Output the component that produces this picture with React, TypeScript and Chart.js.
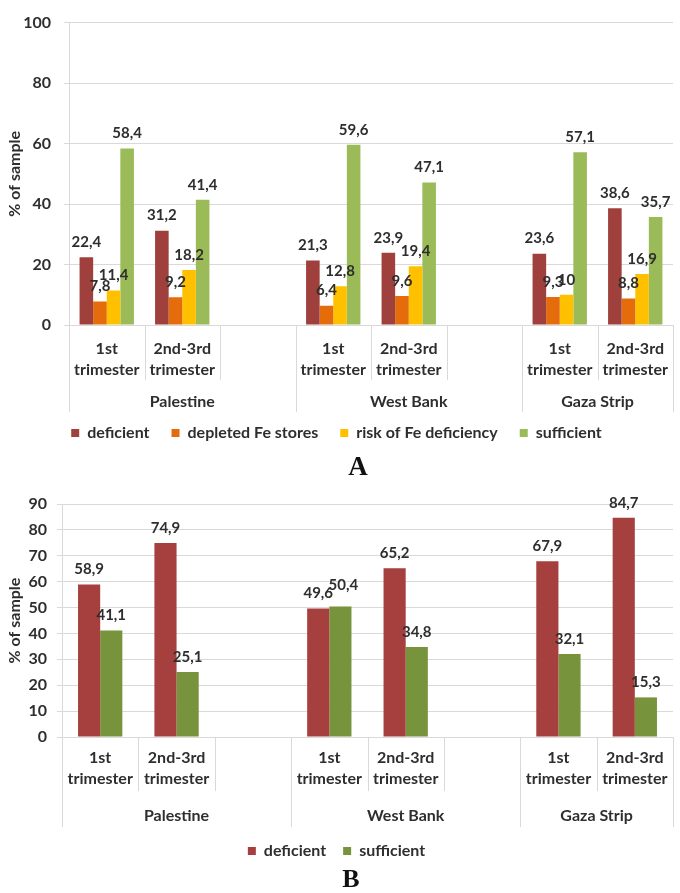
import React, { useEffect, useRef } from "react";
import { Chart, registerables } from "chart.js";

Chart.register(...registerables);

// ---------- data ----------
const categories: string[][] = [
  ["1st", "trimester"],
  ["2nd-3rd", "trimester"],
  ["", ""],
  ["1st", "trimester"],
  ["2nd-3rd", "trimester"],
  ["", ""],
  ["1st", "trimester"],
  ["2nd-3rd", "trimester"],
];
const regions = ["Palestine", "West Bank", "Gaza Strip"];
const regionSpans = [3, 3, 2];

const deficientA = [22.4, 31.2, null, 21.3, 23.9, null, 23.6, 38.6];
const depletedA = [7.8, 9.2, null, 6.4, 9.6, null, 9.3, 8.8];
const riskA = [11.4, 18.2, null, 12.8, 19.4, null, 10, 16.9];
const sufficientA = [58.4, 41.4, null, 59.6, 47.1, null, 57.1, 35.7];

const deficientB = [58.9, 74.9, null, 49.6, 65.2, null, 67.9, 84.7];
const sufficientB = [41.1, 25.1, null, 50.4, 34.8, null, 32.1, 15.3];

const yTicksA = { min: 0, max: 100, step: 20 };
const yTicksB = { min: 0, max: 90, step: 10 };

// ---------- styles ----------
const FONT = "Lato, 'Open Sans', sans-serif";
const TEXT = "#2e2e2e";
const GRID = "#d9d9d9";

const fmt = (v: number) => String(v).replace(".", ",");

const dataLabelPlugin = {
  id: "valueLabels",
  afterDatasetsDraw(chart: any, _a: any, o: any) {
    const ctx = chart.ctx;
    ctx.save();
    ctx.font = `bold 15px ${FONT}`;
    ctx.fillStyle = TEXT;
    ctx.textAlign = "center";
    ctx.textBaseline = "middle";
    const placed: { x: number; y: number; w: number; i: number }[] = [];
    chart.data.datasets.forEach((ds: any, di: number) => {
      const meta = chart.getDatasetMeta(di);
      meta.data.forEach((el: any, i: number) => {
        const v = ds.data[i];
        if (v === null || v === undefined) return;
        const t = fmt(v);
        const w = ctx.measureText(t).width;
        let lx = el.x;
        let ly = el.y - 15;
        if (o && o.avoid) {
          for (const p of placed) {
            if (p.i === i && Math.abs(p.x - lx) < (p.w + w) / 2 && Math.abs(p.y - ly) < 12) {
              lx += 3;
              ly = p.y - 8;
            }
          }
        }
        placed.push({ x: lx, y: ly, w, i });
        ctx.fillText(t, lx, ly);
      });
    });
    ctx.restore();
  },
};

const multiLevelPlugin = {
  id: "multiLevelX",
  afterDraw(chart: any, _args: any, o: any) {
    const ctx = chart.ctx;
    const x = chart.scales.x;
    const n = chart.data.labels.length;
    const w = (x.right - x.left) / n;
    const bottom = chart.chartArea.bottom;
    ctx.save();
    const groupBounds = new Set<number>();
    let acc = 0;
    groupBounds.add(0);
    regionSpans.forEach((s) => {
      acc += s;
      groupBounds.add(acc);
    });
    ctx.strokeStyle = GRID;
    ctx.lineWidth = 1;
    for (let k = 0; k <= n; k++) {
      const px = Math.round(x.left + k * w) + 0.5;
      const len = groupBounds.has(k) ? o.groupLen : o.innerLen;
      ctx.beginPath();
      ctx.moveTo(px, bottom);
      ctx.lineTo(px, bottom + len);
      ctx.stroke();
    }
    ctx.font = `bold 16px ${FONT}`;
    ctx.fillStyle = TEXT;
    ctx.textAlign = "center";
    ctx.textBaseline = "middle";
    categories.forEach((lines, i) => {
      const cx = x.getPixelForValue(i);
      ctx.fillText(lines[0], cx, bottom + o.line1);
      ctx.fillText(lines[1], cx, bottom + o.line2);
    });
    let start = 0;
    regions.forEach((r, gi) => {
      const end = start + regionSpans[gi];
      const cx = x.left + ((start + end) / 2) * w;
      ctx.fillText(r, cx, bottom + o.group);
      start = end;
    });
    ctx.restore();
  },
};

function makeConfig(
  datasets: any[],
  yt: { min: number; max: number; step: number },
  opts: {
    yWidth: number;
    xHeight: number;
    padTop: number;
    catPct: number;
    legendPad: number;
    tickPad: number;
    avoid: boolean;
    ml: any;
  }
): any {
  return {
    type: "bar",
    data: { labels: categories.map((c) => c.join(" ")), datasets },
    plugins: [dataLabelPlugin, multiLevelPlugin],
    options: {
      responsive: false,
      devicePixelRatio: 1,
      animation: false,
      events: [],
      layout: { padding: { top: opts.padTop, right: 7, left: 0, bottom: 0 } },
      datasets: { bar: { categoryPercentage: opts.catPct, barPercentage: 1 } },
      scales: {
        x: {
          grid: { display: false },
          border: { display: false },
          ticks: { display: false },
          afterFit: (s: any) => {
            s.height = opts.xHeight;
          },
        },
        y: {
          min: yt.min,
          max: yt.max,
          ticks: {
            stepSize: yt.step,
            color: TEXT,
            font: { family: FONT, size: 16, weight: "bold" },
            padding: opts.tickPad,
          },
          grid: { color: GRID, tickLength: 5, lineWidth: 1 },
          border: { display: true, color: GRID },
          title: {
            display: true,
            text: "% of sample",
            color: TEXT,
            font: { family: FONT, size: 16, weight: "bold" },
            padding: { top: 5, bottom: 0 },
          },
          afterFit: (s: any) => {
            s.width = opts.yWidth;
          },
        },
      },
      plugins: {
        tooltip: { enabled: false },
        legend: {
          position: "bottom",
          labels: {
            boxWidth: 8,
            boxHeight: 8,
            padding: opts.legendPad,
            color: TEXT,
            font: { family: FONT, size: 16, weight: "bold" },
          },
        },
        valueLabels: { avoid: opts.avoid },
        multiLevelX: opts.ml,
      },
    },
  };
}

function ChartCanvas({ config, width, height }: { config: () => any; width: number; height: number }) {
  const ref = useRef<HTMLCanvasElement | null>(null);
  useEffect(() => {
    if (!ref.current) return;
    const c = new Chart(ref.current, config());
    return () => c.destroy();
  }, []);
  return <canvas ref={ref} width={width} height={height} style={{ display: "block" }} />;
}

export default function App() {
  const cfgA = () =>
    makeConfig(
      [
        { label: "deficient", data: deficientA, backgroundColor: "#a0403c" },
        { label: "depleted Fe stores", data: depletedA, backgroundColor: "#e46c0a" },
        { label: "risk of Fe deficiency", data: riskA, backgroundColor: "#ffc000" },
        { label: "sufficient", data: sufficientA, backgroundColor: "#9bbb59" },
      ],
      yTicksA,
      {
        yWidth: 69,
        xHeight: 78,
        padTop: 13,
        catPct: 0.72,
        legendPad: 22,
        tickPad: 13,
        avoid: false,
        ml: { line1: 24, line2: 45, group: 77, innerLen: 55, groupLen: 87 },
      }
    );
  const cfgB = () =>
    makeConfig(
      [
        { label: "deficient", data: deficientB, backgroundColor: "#a5403e" },
        { label: "sufficient", data: sufficientB, backgroundColor: "#77933c" },
      ],
      yTicksB,
      {
        yWidth: 62,
        xHeight: 89,
        padTop: 24,
        catPct: 0.58,
        legendPad: 17,
        tickPad: 10,
        avoid: true,
        ml: { line1: 21, line2: 42, group: 79, innerLen: 54, groupLen: 90 },
      }
    );
  const letter: React.CSSProperties = {
    position: "absolute",
    fontFamily: "'Liberation Serif', 'DejaVu Serif', serif",
    fontWeight: "bold",
    color: "#111",
    transform: "translate(-50%, -50%)",
    lineHeight: 1,
  };
  return (
    <div style={{ position: "absolute", left: 0, top: 0, width: 680, height: 893, background: "#fff" }}>
      <div style={{ position: "absolute", left: 0, top: 0 }}>
        <ChartCanvas config={cfgA} width={680} height={451} />
      </div>
      <div style={{ ...letter, left: 358, top: 466, fontSize: 27 }}>A</div>
      <div style={{ position: "absolute", left: 0, top: 480 }}>
        <ChartCanvas config={cfgB} width={680} height={389} />
      </div>
      <div style={{ ...letter, left: 351, top: 879, fontSize: 26 }}>B</div>
    </div>
  );
}
